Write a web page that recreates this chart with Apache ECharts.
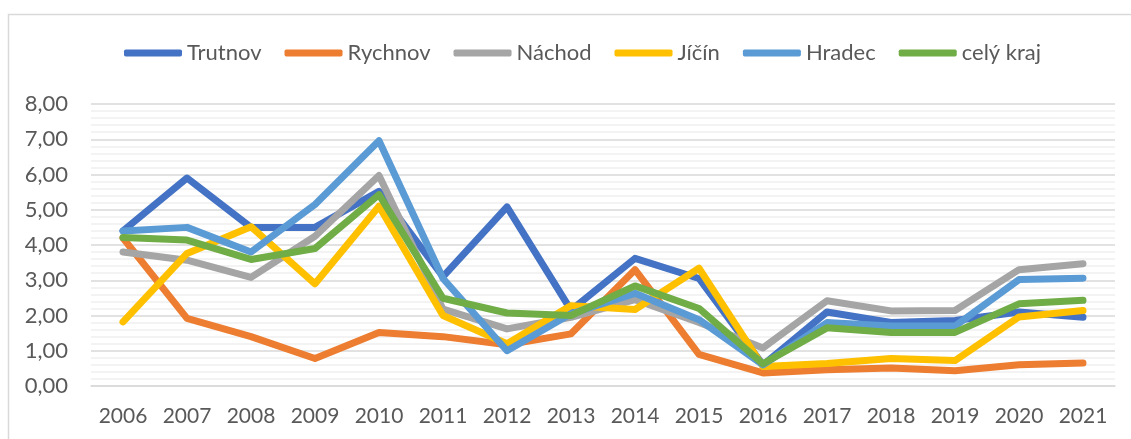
<!DOCTYPE html>
<html>
<head>
<meta charset="utf-8">
<title>okresy</title>
<script src="https://cdn.jsdelivr.net/npm/echarts@6/dist/echarts.min.js"></script>
<style>
  html, body { margin: 0; padding: 0; background: #fff; }
  #chart { width: 1131px; height: 439px; }
</style>
</head>
<body>
<div id="chart"></div>
<script>
// roky
var years = ['2006','2007','2008','2009','2010','2011','2012','2013','2014','2015','2016','2017','2018','2019','2020','2021'];

// hodnoty
var trutnov = [4.4, 5.9, 4.5, 4.5, 5.52, 3.1, 5.08, 2.15, 3.62, 3.05, 0.6, 2.1, 1.8, 1.86, 2.1, 1.95];
var rychnov = [4.2, 1.92, 1.4, 0.78, 1.52, 1.4, 1.17, 1.48, 3.3, 0.9, 0.37, 0.46, 0.51, 0.43, 0.6, 0.65];
var nachod  = [3.8, 3.57, 3.08, 4.25, 5.97, 2.18, 1.62, 1.95, 2.45, 1.8, 1.08, 2.42, 2.13, 2.14, 3.3, 3.47];
var jicin   = [1.82, 3.76, 4.52, 2.9, 5.1, 2.0, 1.2, 2.28, 2.17, 3.34, 0.55, 0.64, 0.78, 0.72, 1.96, 2.14];
var hradec  = [4.4, 4.5, 3.8, 5.15, 6.96, 3.05, 1.0, 2.05, 2.63, 1.88, 0.6, 1.8, 1.7, 1.7, 3.02, 3.06];
var celyKraj = [4.21, 4.14, 3.59, 3.9, 5.43, 2.49, 2.07, 2.0, 2.84, 2.2, 0.63, 1.65, 1.52, 1.52, 2.33, 2.43];

var names = ['Trutnov','Rychnov','Náchod','Jíčín','Hradec','celý kraj'];
var colors = ['#4472C4','#ED7D31','#A5A5A5','#FFC000','#5B9BD5','#70AD47'];
var values = [trutnov, rychnov, nachod, jicin, hradec, celyKraj];

var series = [];
for (var i = 0; i < names.length; i++) {
    series.push({
        name: names[i],
        type: 'line',
        data: values[i],
        symbol: 'none',
        smooth: false,
        lineStyle: { width: 7, color: colors[i], cap: 'round', join: 'round' },
        itemStyle: { color: colors[i] }
    });
}

var myChart = echarts.init(document.getElementById('chart'));

var option = {
    animation: false,
    color: colors,
    textStyle: { fontFamily: 'Lato' },
    graphic: [{
        type: 'rect',
        shape: { x: 8.5, y: 14.5, width: 1140, height: 440 },
        style: { fill: 'none', stroke: '#d9d9d9', lineWidth: 1.5 },
        silent: true
    }],
    legend: {
        top: 37,
        left: 119,
        itemWidth: 58,
        itemHeight: 7,
        itemGap: 23,
        icon: 'roundRect',
        textStyle: { fontFamily: 'Lato', fontSize: 22, color: '#595959' },
        data: names
    },
    grid: { left: 91, right: 16, top: 104, bottom: 53 },
    xAxis: {
        type: 'category',
        data: years,
        boundaryGap: true,
        axisLine: { show: true, lineStyle: { color: '#d9d9d9', width: 1.5 } },
        axisTick: { show: false },
        axisLabel: { fontFamily: 'Lato', fontSize: 21, color: '#595959', margin: 20 }
    },
    yAxis: {
        type: 'value',
        min: 0,
        max: 8,
        interval: 1,
        axisLine: { show: false },
        axisTick: { show: false },
        axisLabel: {
            fontFamily: 'Lato', fontSize: 22, color: '#595959', margin: 23,
            formatter: function (v) { return v.toFixed(2).replace('.', ','); }
        },
        splitLine: { show: true, lineStyle: { color: '#d9d9d9', width: 1.5 } },
        minorTick: { show: false, splitNumber: 5 },
        minorSplitLine: { show: true, lineStyle: { color: '#efefef', width: 1.5 } }
    },
    series: series
};

myChart.setOption(option);
</script>
</body>
</html>
